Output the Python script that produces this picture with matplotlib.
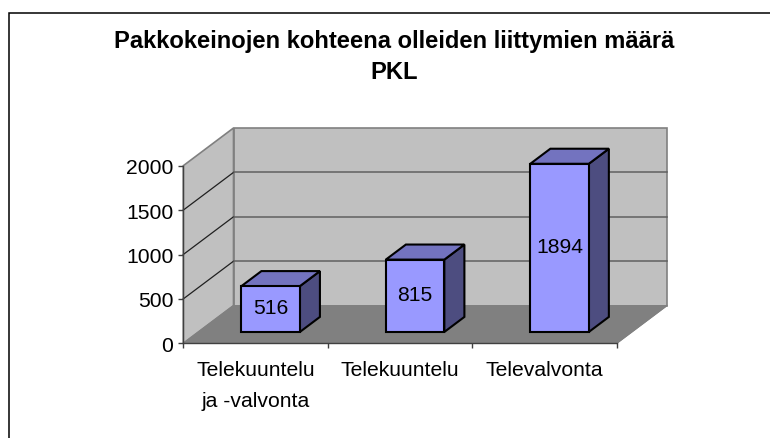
"""Pakkokeinot 3D column chart, drawn by hand on a flat axes."""
import matplotlib
matplotlib.use("Agg")
import matplotlib.pyplot as plt
from matplotlib.patches import Polygon, Rectangle

plt.rcParams["font.family"] = ["Liberation Sans", "DejaVu Sans"]

categories = ["Telekuuntelu\nja -valvonta", "Telekuuntelu", "Televalvonta"]
values = [516, 815, 1894]
y_ticks = [0, 500, 1000, 1500, 2000]
title = "Pakkokeinojen kohteena olleiden liittymien määrä\nPKL"

W, H = 770, 439
LEFT, RIGHT, BOTTOM, TOP = 183.3, 616.7, 344.3, 166.7

# depth of the box in data units: full depth = 50 px right, 37.7 px up
DEPTH_X = 50.2 / ((RIGHT - LEFT) / 3)
DEPTH_Y = 37.7 / ((BOTTOM - TOP) / 2000)
BAR_WIDTH = 0.405
D_FRONT, D_BACK = 0.30, 0.70

WALL = "#c0c0c0"
FLOOR = "#808080"
EDGE = "#808080"
BAR_FRONT = "#9999ff"
BAR_TOP = "#7373bf"
BAR_SIDE = "#4d4d80"
FONT = 15.2


def proj(x, y, d):
    return x + d * DEPTH_X, y + d * DEPTH_Y


def face(ax, pts, color, edge, lw, z):
    ax.add_patch(Polygon(pts, closed=True, facecolor=color, edgecolor=edge,
                         linewidth=lw, zorder=z, clip_on=False, joinstyle="miter"))


fig = plt.figure(figsize=(W / 100, H / 100), dpi=100)
fig.patches.append(Rectangle((8.5 / W, -0.1), 1.1, 1.1 - 14 / H,
                             transform=fig.transFigure, fill=False,
                             edgecolor="black", linewidth=1.1))

ax = fig.add_axes([LEFT / W, 1 - BOTTOM / H, (RIGHT - LEFT) / W, (BOTTOM - TOP) / H])
ax.set_xlim(0, len(categories))
ax.set_ylim(0, y_ticks[-1])
ax.patch.set_visible(False)
for name in ["top", "right"]:
    ax.spines[name].set_visible(False)
for name in ["left", "bottom"]:
    ax.spines[name].set_color("#404040")
    ax.spines[name].set_linewidth(1.0)
    ax.spines[name].set_zorder(3)

xmax, ymax = len(categories), y_ticks[-1]

# back wall, side wall, floor
face(ax, [proj(0, 0, 1), proj(xmax, 0, 1), proj(xmax, ymax, 1), proj(0, ymax, 1)],
     WALL, EDGE, 1.2, 1)
face(ax, [proj(0, 0, 0), proj(0, 0, 1), proj(0, ymax, 1), proj(0, ymax, 0)],
     WALL, EDGE, 1.2, 1)
face(ax, [proj(0, 0, 0), proj(xmax, 0, 0), proj(xmax, 0, 1), proj(0, 0, 1)],
     FLOOR, FLOOR, 0.8, 1.5)
ax.plot(*zip(proj(xmax, 0, 0), proj(xmax, 0, 1)), color=EDGE, lw=1, zorder=1.6, clip_on=False)

# gridlines along the side wall and the back wall
for t in y_ticks[1:-1]:
    ax.plot(*zip(proj(0, t, 0), proj(0, t, 1)), color="#202020", lw=0.9, zorder=2, clip_on=False)
    ax.plot(*zip(proj(0, t, 1), proj(xmax, t, 1)), color="#606060", lw=1.1, zorder=2, clip_on=False)

# bars
for i, v in enumerate(values):
    x0 = i + 0.5 - BAR_WIDTH / 2
    x1 = i + 0.5 + BAR_WIDTH / 2
    front = [proj(x0, 0, D_FRONT), proj(x1, 0, D_FRONT), proj(x1, v, D_FRONT), proj(x0, v, D_FRONT)]
    top = [proj(x0, v, D_FRONT), proj(x1, v, D_FRONT), proj(x1, v, D_BACK), proj(x0, v, D_BACK)]
    side = [proj(x1, 0, D_FRONT), proj(x1, 0, D_BACK), proj(x1, v, D_BACK), proj(x1, v, D_FRONT)]
    face(ax, side, BAR_SIDE, "black", 1.5, 4)
    face(ax, top, BAR_TOP, "black", 1.5, 4)
    face(ax, front, BAR_FRONT, "black", 1.5, 5)
    ax.annotate(str(v), proj(i + 0.5, v / 2, D_FRONT), xytext=(0, 1.2), textcoords="offset points",
                ha="center", va="center", fontsize=FONT, color="black", zorder=6)

ax.set_yticks(y_ticks)
ax.set_xticks(range(xmax + 1))
ax.set_xticklabels([])
ax.set_xticks([i + 0.5 for i in range(xmax)], minor=True)
ax.set_xticklabels(categories, minor=True, linespacing=1.77, va="top")
ax.tick_params(axis="both", which="major", length=3.6, width=1, color="#404040", labelsize=FONT)
ax.tick_params(axis="x", which="minor", length=0, labelsize=FONT, pad=12)
ax.tick_params(axis="y", pad=3.5)

fig.text(394 / W, 1 - 57 / H, title, ha="center", va="center", fontsize=17.1,
         fontweight="bold", linespacing=1.39)

fig.savefig("out.png", dpi=100, facecolor="white")
